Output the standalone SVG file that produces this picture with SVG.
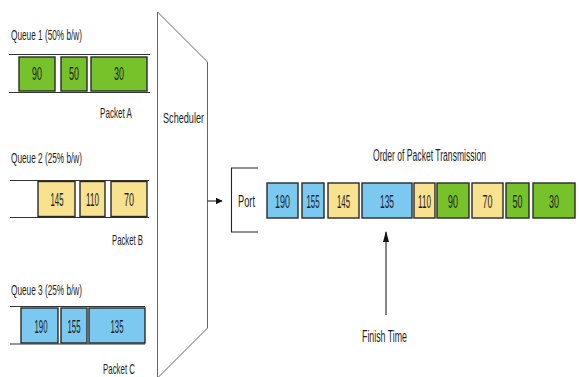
<svg xmlns="http://www.w3.org/2000/svg" width="579" height="377" viewBox="0 0 579 377">
<defs>
<style>
text{font-family:"Liberation Sans",Arial,sans-serif;font-size:15px;fill:#1e1e1e}
.n{text-anchor:middle;font-size:19px}
.g{fill:#77c22b;stroke:#2a2a2a;stroke-width:1.4}
.y{fill:#f8e18f;stroke:#2a2a2a;stroke-width:1.4}
.b{fill:#7bc9f1;stroke:#2a2a2a;stroke-width:1.4}
.ql{stroke:#333;stroke-width:1.2;fill:none}
.sh{stroke:#666;stroke-width:1;fill:#fff}
.con{stroke:#222;stroke-width:1.1;fill:none}
</style>
<marker id="ah" viewBox="0 0 10 10" refX="9" refY="5" markerWidth="7" markerHeight="7" markerUnits="userSpaceOnUse" orient="auto"><path d="M0,0 L10,5 L0,10 z" fill="#111"/></marker>
<marker id="ah2" viewBox="0 0 10 10" refX="9" refY="5" markerWidth="11" markerHeight="6" markerUnits="userSpaceOnUse" orient="auto" preserveAspectRatio="none"><path d="M0,0 L10,5 L0,10 z" fill="#111"/></marker>
</defs>
<rect width="579" height="377" fill="#fff"/>

<g id="queue1">
<text x="11" y="39.5" textLength="71" lengthAdjust="spacingAndGlyphs">Queue 1  (50% b/w)</text>
<line class="ql" x1="9" y1="54.5" x2="150" y2="54.5"/>
<line class="ql" x1="9" y1="92.5" x2="150" y2="92.5"/>
<rect class="g" x="19" y="57" width="36" height="34"/>
<rect class="g" x="61" y="57" width="26" height="34"/>
<rect class="g" x="91" y="57" width="56" height="34"/>
<text class="n" x="37" y="80" textLength="10" lengthAdjust="spacingAndGlyphs">90</text>
<text class="n" x="74" y="80" textLength="10" lengthAdjust="spacingAndGlyphs">50</text>
<text class="n" x="119" y="80" textLength="10" lengthAdjust="spacingAndGlyphs">30</text>
<text x="100" y="118" textLength="32" lengthAdjust="spacingAndGlyphs">Packet A</text>
</g>

<g id="queue2">
<text x="11" y="162.5" textLength="71" lengthAdjust="spacingAndGlyphs">Queue 2  (25% b/w)</text>
<line class="ql" x1="10" y1="180.5" x2="149" y2="180.5"/>
<line class="ql" x1="10" y1="217.5" x2="149" y2="217.5"/>
<rect class="y" x="38" y="181.5" width="37" height="35"/>
<rect class="y" x="80" y="181.5" width="25" height="35"/>
<rect class="y" x="111" y="181.5" width="36" height="35"/>
<text class="n" x="57" y="206" textLength="13" lengthAdjust="spacingAndGlyphs">145</text>
<text class="n" x="92.5" y="206" textLength="13" lengthAdjust="spacingAndGlyphs">110</text>
<text class="n" x="129" y="206" textLength="10" lengthAdjust="spacingAndGlyphs">70</text>
<text x="112" y="245" textLength="31" lengthAdjust="spacingAndGlyphs">Packet B</text>
</g>

<g id="queue3">
<text x="11" y="295" textLength="71" lengthAdjust="spacingAndGlyphs">Queue 3  (25% b/w)</text>
<line class="ql" x1="10" y1="306.5" x2="145" y2="306.5"/>
<line class="ql" x1="10" y1="344" x2="145" y2="344"/>
<rect class="b" x="21" y="308" width="37" height="35"/>
<rect class="b" x="61" y="308" width="26" height="35"/>
<rect class="b" x="89" y="308" width="56" height="35"/>
<text class="n" x="41" y="332.5" textLength="13" lengthAdjust="spacingAndGlyphs">190</text>
<text class="n" x="74" y="332.5" textLength="13" lengthAdjust="spacingAndGlyphs">155</text>
<text class="n" x="117" y="332.5" textLength="13" lengthAdjust="spacingAndGlyphs">135</text>
<text x="103" y="374" textLength="32" lengthAdjust="spacingAndGlyphs">Packet C</text>
</g>

<g id="scheduler">
<path class="sh" d="M157.5,12 L207.5,62 L207.5,328 L157.5,378 Z"/>
<text x="163" y="123" textLength="41" lengthAdjust="spacingAndGlyphs">Scheduler</text>
</g>

<g id="port">
<path class="con" d="M258,168 L231.5,168 L231.5,232 L258,232" stroke="#333"/>
<text x="238" y="207" textLength="17" lengthAdjust="spacingAndGlyphs" style="font-size:16px">Port</text>
</g>

<g id="transmission">
<text x="373" y="161" textLength="113" lengthAdjust="spacingAndGlyphs" style="font-size:16px">Order of Packet Transmission</text>
<rect class="b" x="267" y="183" width="31" height="35"/>
<rect class="b" x="302" y="183" width="22" height="35"/>
<rect class="y" x="328" y="183" width="31" height="35"/>
<rect class="b" x="362" y="183" width="50" height="35"/>
<rect class="y" x="414" y="183" width="21" height="35"/>
<rect class="g" x="437" y="183" width="32" height="35"/>
<rect class="y" x="472" y="183" width="31" height="35"/>
<rect class="g" x="506" y="183" width="23" height="35"/>
<rect class="g" x="533" y="183" width="42" height="35"/>
<text class="n" x="282.5" y="207.5" textLength="15" lengthAdjust="spacingAndGlyphs">190</text>
<text class="n" x="313" y="207.5" textLength="13" lengthAdjust="spacingAndGlyphs">155</text>
<text class="n" x="343.5" y="207.5" textLength="13" lengthAdjust="spacingAndGlyphs">145</text>
<text class="n" x="387" y="207.5" textLength="14" lengthAdjust="spacingAndGlyphs">135</text>
<text class="n" x="424.5" y="207.5" textLength="13" lengthAdjust="spacingAndGlyphs">110</text>
<text class="n" x="453" y="207.5" textLength="10" lengthAdjust="spacingAndGlyphs">90</text>
<text class="n" x="487.5" y="207.5" textLength="10" lengthAdjust="spacingAndGlyphs">70</text>
<text class="n" x="517.5" y="207.5" textLength="10" lengthAdjust="spacingAndGlyphs">50</text>
<text class="n" x="554" y="207.5" textLength="10" lengthAdjust="spacingAndGlyphs">30</text>
</g>

<g id="finish">
<text x="362" y="341.5" textLength="45" lengthAdjust="spacingAndGlyphs" style="font-size:16px">Finish Time</text>
</g>

<g id="connectors">
<line class="con" x1="207.5" y1="201" x2="222" y2="201" marker-end="url(#ah)"/>
<line class="con" x1="386" y1="315" x2="386" y2="232" marker-end="url(#ah2)"/>
</g>
</svg>
